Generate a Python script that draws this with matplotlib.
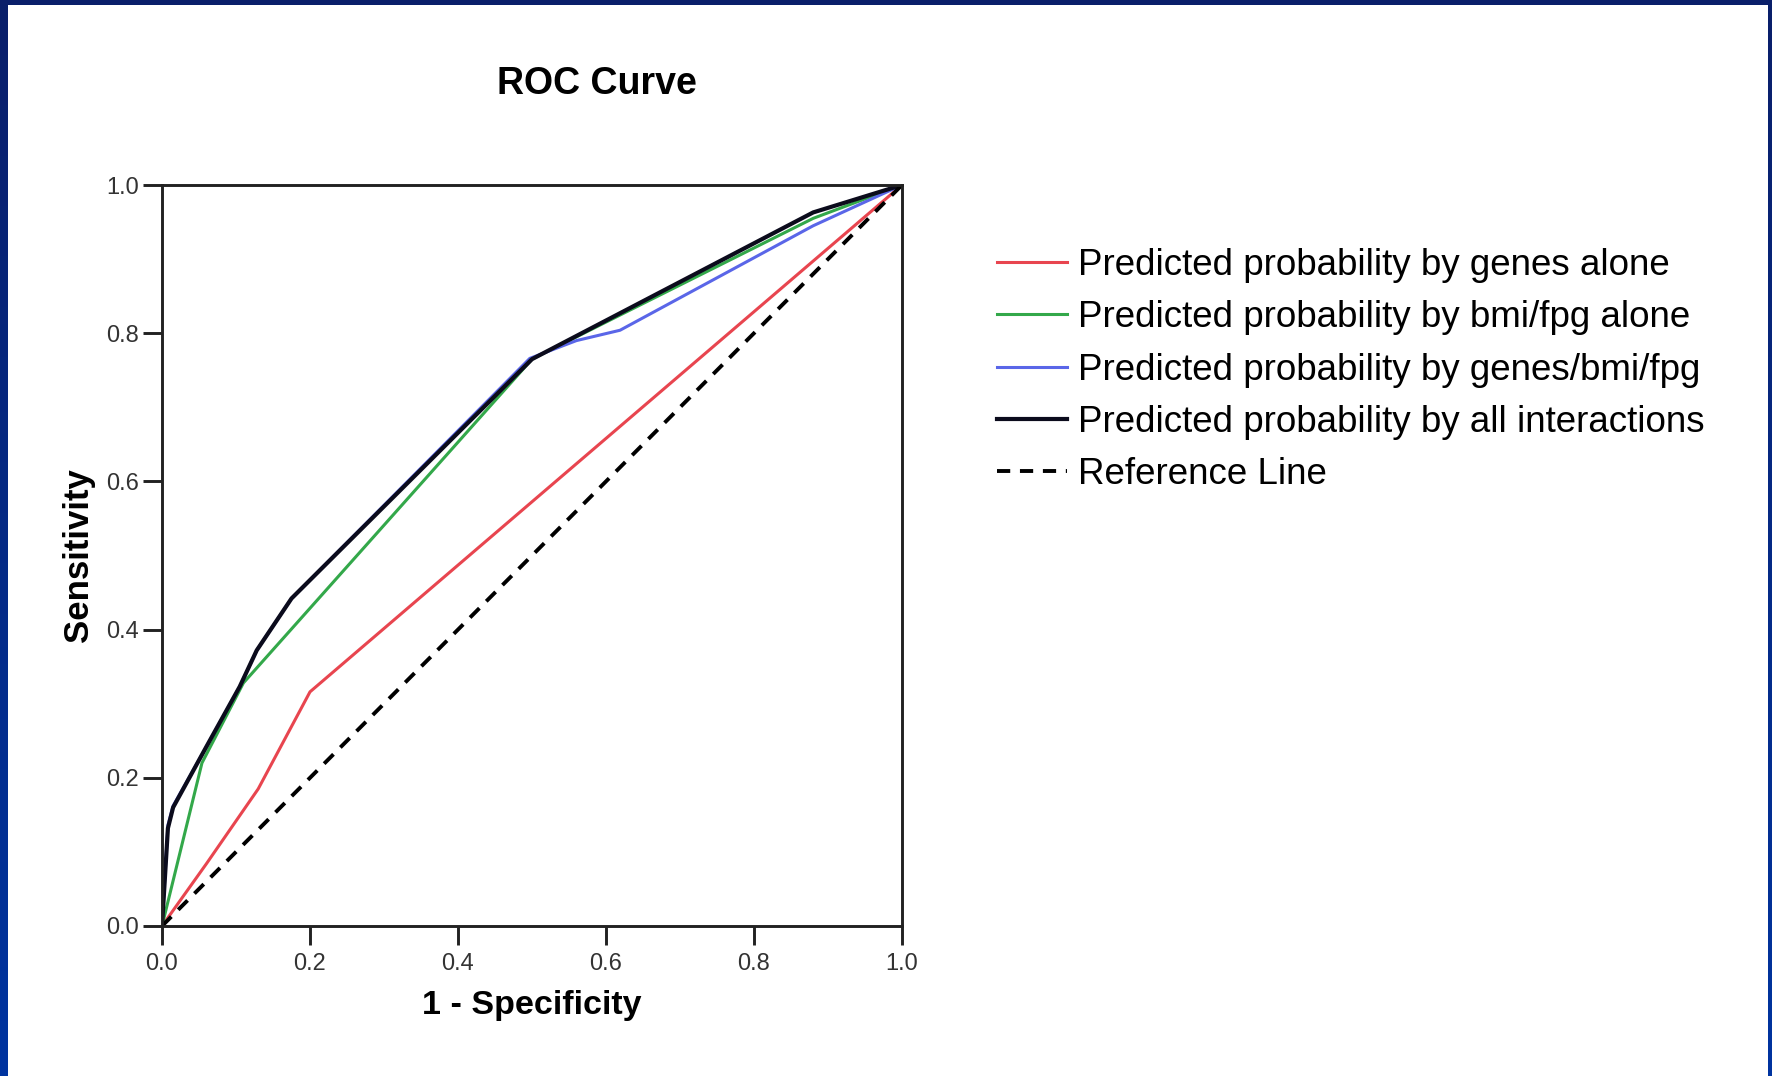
import numpy as np
import matplotlib
matplotlib.use("Agg")
import matplotlib.pyplot as plt

plt.rcParams['font.family'] = ['Liberation Sans', 'DejaVu Sans']

# ROC points (1 - specificity, sensitivity)
genes_x = [0, 0.06, 0.13, 0.2, 1.0]
genes_y = [0, 0.084, 0.185, 0.316, 1.0]

bmi_x = [0, 0.054, 0.11, 0.5, 0.88, 1.0]
bmi_y = [0, 0.22, 0.328, 0.765, 0.955, 1.0]

genes_bmi_x = [0, 0.008, 0.015, 0.06, 0.105, 0.128, 0.175, 0.497, 0.56, 0.619, 0.88, 1.0]
genes_bmi_y = [0, 0.136, 0.162, 0.242, 0.323, 0.372, 0.442, 0.766, 0.79, 0.804, 0.945, 1.0]

all_x = [0, 0.008, 0.015, 0.06, 0.105, 0.128, 0.175, 0.5, 0.88, 1.0]
all_y = [0, 0.132, 0.16, 0.242, 0.323, 0.372, 0.442, 0.765, 0.963, 1.0]

ref_x = [0, 1]
ref_y = [0, 1]

labels = ["Predicted probability by genes alone",
          "Predicted probability by bmi/fpg alone",
          "Predicted probability by genes/bmi/fpg",
          "Predicted probability by all interactions",
          "Reference Line"]
ticks = [0.0, 0.2, 0.4, 0.6, 0.8, 1.0]

W, H = 1772, 1076
fig = plt.figure(figsize=(W / 100, H / 100), dpi=100)

# blue slide frame with white page on top
bg = fig.add_axes([0, 0, 1, 1], zorder=-10)
grad = np.linspace(0, 1, 256).reshape(-1, 1)
bg.imshow(grad, aspect='auto', extent=[0, W, H, 0],
          cmap=matplotlib.colors.LinearSegmentedColormap.from_list(
              'slide', ['#0a1f6a', '#0034a0']))
bg.add_patch(plt.Rectangle((8, 5), 1760, H - 5, color='white', lw=0))
bg.set_xlim(0, W)
bg.set_ylim(H, 0)
bg.axis('off')

ax = fig.add_axes([162 / W, 1 - 926 / H, 740 / W, 741 / H])
ax.plot(genes_x, genes_y, color='#e8454f', lw=2.2, label=labels[0])
ax.plot(bmi_x, bmi_y, color='#33a84a', lw=2.2, label=labels[1])
ax.plot(genes_bmi_x, genes_bmi_y, color='#5a66e8', lw=2.2, label=labels[2])
ax.plot(all_x, all_y, color='#0b0b1c', lw=3.0, label=labels[3])
ax.plot(ref_x, ref_y, color='black', lw=2.8, dashes=(3.4, 2.5), label=labels[4])

ax.set_xlim(0, 1)
ax.set_ylim(0, 1)
ax.set_xticks(ticks)
ax.set_yticks(ticks)
ax.set_xticklabels([f"{t:.1f}" for t in ticks])
ax.set_yticklabels([f"{t:.1f}" for t in ticks])
ax.tick_params(direction='out', length=13.5, width=2.1, color='#222222',
               labelsize=17, labelcolor='#333333')
ax.tick_params(axis='x', pad=6)
ax.tick_params(axis='y', pad=3)
for s in ax.spines.values():
    s.set_linewidth(2.1)
    s.set_color('#222222')

ax.set_xlabel("1 - Specificity", fontsize=24.5, fontweight='bold', labelpad=11)
ax.set_ylabel("Sensitivity", fontsize=25, fontweight='bold', labelpad=8)

fig.text(597 / W, 1 - 94 / H, "ROC Curve", fontsize=27, fontweight='bold',
         ha='center', va='baseline')

fig.legend(loc='upper left', bbox_to_anchor=(997 / W, 1 - 248 / H),
           frameon=False, fontsize=26.5, handlelength=1.9, handletextpad=0.3,
           labelspacing=0.47, borderpad=0, borderaxespad=0)

fig.savefig("out.png", dpi=100)
